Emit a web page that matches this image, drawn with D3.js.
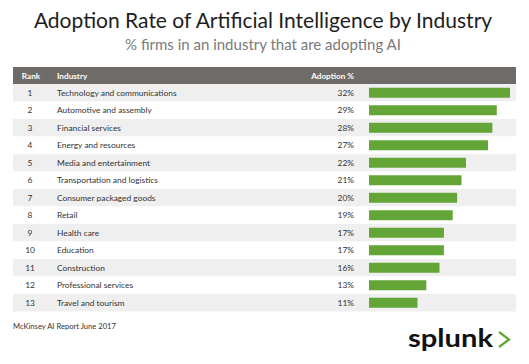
<!DOCTYPE html>
<html><head><meta charset="utf-8">
<script src="https://cdn.jsdelivr.net/npm/d3@7"></script>
<style>
html,body{margin:0;padding:0;background:#fff;}
svg{display:block;font-family:Lato,"Open Sans",sans-serif;}
</style></head>
<body><svg id="c" width="529" height="364"></svg>
<script>
const ranks = [1,2,3,4,5,6,7,8,9,10,11,12,13];
const industries = ["Technology and communications","Automotive and assembly","Financial services","Energy and resources","Media and entertainment","Transportation and logistics","Consumer packaged goods","Retail","Health care","Education","Construction","Professional services","Travel and tourism"];
const adoption = [32,29,28,27,22,21,20,19,17,17,16,13,11];
const headers = ["Rank","Industry","Adoption %"];
const title = "Adoption Rate of Artificial Intelligence by Industry";
const subtitle = "% firms in an industry that are adopting AI";
const source = "McKinsey AI Report June 2017";

const svg = d3.select("#c");
const left = 13, right = 516;
const headTop = 67, headBottom = 84, tableBottom = 311.5;

const y = d3.scaleBand().domain(d3.range(industries.length)).range([headBottom, tableBottom]);
const x = d3.scaleLinear().domain([0, 32]).range([369, 510]);

svg.append("text").attr("x", 263).attr("y", 28).attr("text-anchor","middle")
  .attr("font-size", 21).attr("fill","#1e1e1e").text(title);
svg.append("text").attr("x", 263).attr("y", 50).attr("text-anchor","middle")
  .attr("font-size", 15).attr("fill","#7a7a7a").text(subtitle);

// header
svg.append("rect").attr("x", left).attr("y", headTop).attr("width", right-left).attr("height", headBottom-headTop).attr("fill","#6e6b68");
const hy = (headTop+headBottom)/2 + 3;
svg.append("text").attr("x", 31).attr("y", hy).attr("text-anchor","middle").attr("font-size",8.2).attr("font-weight","bold").attr("fill","#fff").text(headers[0]);
svg.append("text").attr("x", 57).attr("y", hy).attr("font-size",8.2).attr("font-weight","bold").attr("fill","#fff").text(headers[1]);
svg.append("text").attr("x", 354).attr("y", hy).attr("text-anchor","end").attr("font-size",8.2).attr("font-weight","bold").attr("fill","#fff").text(headers[2]);

const rows = svg.append("g").selectAll("g").data(industries).join("g");
rows.append("rect").attr("x", left).attr("y", (d,i)=>y(i)).attr("width", right-left).attr("height", y.bandwidth())
  .attr("fill", (d,i)=> i%2===0 ? "#efefef" : "#ffffff");
rows.append("text").attr("x", 30).attr("y", (d,i)=>y(i)+y.bandwidth()/2+3).attr("text-anchor","middle")
  .attr("font-size",8.4).attr("fill","#333").text((d,i)=>ranks[i]);
rows.append("text").attr("x", 57).attr("y", (d,i)=>y(i)+y.bandwidth()/2+3)
  .attr("font-size",8.4).attr("fill","#333").text(d=>d);
rows.append("text").attr("x", 354).attr("y", (d,i)=>y(i)+y.bandwidth()/2+3).attr("text-anchor","end")
  .attr("font-size",8.4).attr("fill","#333").text((d,i)=>adoption[i]+"%");
rows.append("rect").attr("x", x(0)).attr("y", (d,i)=>y(i)+y.bandwidth()/2-5).attr("height", 10)
  .attr("width", (d,i)=>x(adoption[i])-x(0)).attr("fill","#64a537");

svg.append("text").attr("x", 13).attr("y", 329).attr("font-size",7.6).attr("fill","#333").text(source);

// splunk logo
svg.append("text").attr("x", 408).attr("y", 347).attr("font-size",25).attr("font-weight","bold").attr("fill","#111")
  .attr("textLength",85).attr("lengthAdjust","spacingAndGlyphs").text("splunk");
svg.append("path").attr("d","M499,332 L509,339.5 L499,347").attr("fill","none").attr("stroke","#65a637").attr("stroke-width",2.2);
</script></body></html>
